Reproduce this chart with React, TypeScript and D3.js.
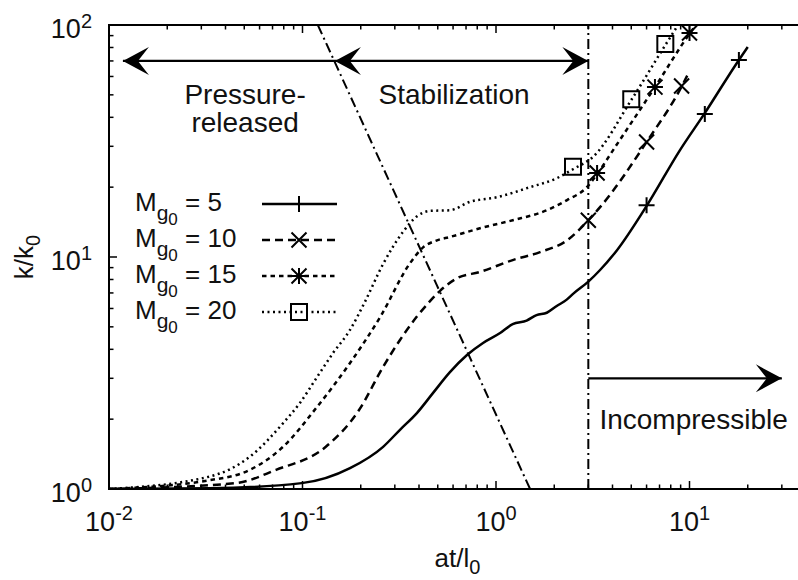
import React from 'react';
import * as d3 from 'd3';

// k/k0 growth curves (log-log)
const m5X = [0.01, 0.033, 0.099, 0.176, 0.261, 0.319, 0.391, 0.472, 0.578, 0.708, 0.857, 1.05, 1.22, 1.44, 1.62, 1.83, 2.06, 2.32, 2.51, 3.0, 3.45, 4.22, 6.03, 8.93, 11.9, 18.0, 20.0];
const m5Y = [1.0, 1.007, 1.06, 1.23, 1.52, 1.8, 2.13, 2.59, 3.19, 3.78, 4.26, 4.7, 5.14, 5.32, 5.62, 5.75, 6.15, 6.55, 6.95, 7.83, 8.79, 10.7, 16.7, 28.9, 41.3, 70.7, 80.4];

const m10X = [0.01, 0.0453, 0.073, 0.132, 0.196, 0.261, 0.319, 0.391, 0.456, 0.514, 0.629, 0.826, 1.22, 1.69, 2.33, 3.0, 3.45, 6.0, 9.14, 9.94];
const m10Y = [1.0, 1.06, 1.21, 1.52, 2.19, 3.36, 4.39, 5.55, 6.45, 7.15, 8.1, 8.62, 9.7, 10.5, 11.8, 14.4, 16.4, 31.3, 54.6, 62.7];

const m15X = [0.01, 0.0329, 0.0536, 0.0793, 0.119, 0.176, 0.252, 0.36, 0.42, 0.496, 0.578, 0.826, 1.22, 1.83, 2.33, 2.95, 3.36, 4.03, 6.63, 10.07, 10.8];
const m15Y = [1.0, 1.09, 1.21, 1.52, 2.26, 3.49, 5.51, 9.42, 11.0, 11.8, 12.2, 13.3, 14.4, 15.9, 17.6, 20.0, 23.0, 28.9, 54.0, 92.4, 100];

const m20X = [0.01, 0.0329, 0.0536, 0.0793, 0.097, 0.119, 0.144, 0.176, 0.21, 0.261, 0.33, 0.391, 0.456, 0.578, 0.734, 1.01, 1.5, 2.07, 2.5, 3.17, 5.04, 7.56, 8.73];
const m20Y = [1.0, 1.13, 1.38, 1.92, 2.35, 3.04, 3.86, 4.85, 6.4, 9.33, 12.8, 15.0, 15.8, 15.9, 17.3, 18.1, 20.0, 21.9, 23.9, 27.0, 48.0, 82.8, 100];

// point markers
const m5MarkX = [6, 12, 18];
const m5MarkY = [16.7, 41.3, 70.7];
const m10MarkX = [3, 6, 9.1];
const m10MarkY = [14.4, 31.3, 54.6];
const m15MarkX = [3.33, 6.63, 10.0];
const m15MarkY = [23.0, 54.0, 92.4];
const m20MarkX = [2.5, 5.0, 7.5];
const m20MarkY = [24.5, 47.8, 82.8];

const machLabels = ['5', '10', '15', '20'];

// regime boundaries
const diagX = [0.12, 1.5];
const diagY = [100, 1];
const incompX = 3;

const xTicks = [0.01, 0.1, 1, 10];
const xTickExp = ['-2', '-1', '0', '1'];
const yTicks = [1, 10, 100];
const yTickExp = ['0', '1', '2'];

const FONT = "'Liberation Sans', Arial, Helvetica, sans-serif";

const x0 = 109, x1 = 806, y0 = 25, y1 = 489;

const xS = d3.scaleLog().domain([0.01, 40]).range([x0, x1]);
const yS = d3.scaleLog().domain([1, 100]).range([y1, y0]);

const line = d3.line<[number, number]>()
  .x(d => xS(d[0]))
  .y(d => yS(d[1]))
  .curve(d3.curveMonotoneX);

const zip = (xs: number[], ys: number[]) => xs.map((v, i) => [v, ys[i]] as [number, number]);

const series = [
  { pts: zip(m5X, m5Y), dash: undefined, marker: 'plus', mk: zip(m5MarkX, m5MarkY) },
  { pts: zip(m10X, m10Y), dash: '8,5', marker: 'cross', mk: zip(m10MarkX, m10MarkY) },
  { pts: zip(m15X, m15Y), dash: '4.5,4', marker: 'star', mk: zip(m15MarkX, m15MarkY) },
  { pts: zip(m20X, m20Y), dash: '2,3.5', marker: 'box', mk: zip(m20MarkX, m20MarkY) },
];

function Marker({ type, x, y }: { type: string; x: number; y: number }) {
  const s = 8, c = 7.5;
  const p: string[] = [];
  if (type === 'plus' || type === 'star') p.push(`M${x - s},${y}H${x + s}M${x},${y - s}V${y + s}`);
  if (type === 'cross' || type === 'star') p.push(`M${x - c},${y - c}L${x + c},${y + c}M${x - c},${y + c}L${x + c},${y - c}`);
  if (type === 'box') p.push(`M${x - s},${y - s}h${2 * s}v${2 * s}h${-2 * s}Z`);
  return <path d={p.join('')} fill="none" stroke="#000" strokeWidth={2} />;
}

function head(x: number, y: number, dir: number) {
  const L = 26, hw = 14, n = 15;
  return `M${x},${y}L${x - dir * L},${y - hw}L${x - dir * n},${y}L${x - dir * L},${y + hw}Z`;
}

export default function App() {
  const minorX: number[] = [];
  xTicks.forEach(d => d3.range(2, 10).forEach(k => { if (k * d <= 40) minorX.push(k * d); }));
  const minorY: number[] = [];
  yTicks.slice(0, 2).forEach(d => d3.range(2, 10).forEach(k => minorY.push(k * d)));

  const arrowY = yS(70);
  const aL = xS(0.0118), aM = xS(0.147), aR = xS(incompX);
  const inY = yS(3), inR = xS(30);

  return (
    <svg width={798} height={580} style={{ position: 'absolute', left: 0, top: 0, background: '#fff' }}
      fontFamily={FONT}>
      <defs>
        <clipPath id="plot"><rect x={x0} y={y0} width={x1 - x0} height={y1 - y0} /></clipPath>
      </defs>

      {/* ticks */}
      <g stroke="#000" strokeWidth={1.5}>
        {xTicks.map(v => <g key={'xt' + v}>
          <line x1={xS(v)} x2={xS(v)} y1={y1} y2={y1 - 8} />
          <line x1={xS(v)} x2={xS(v)} y1={y0} y2={y0 + 8} />
        </g>)}
        {minorX.map(v => <g key={'xm' + v}>
          <line x1={xS(v)} x2={xS(v)} y1={y1} y2={y1 - 4.5} />
          <line x1={xS(v)} x2={xS(v)} y1={y0} y2={y0 + 4.5} />
        </g>)}
        {yTicks.map(v => <line key={'yt' + v} x1={x0} x2={x0 + 8} y1={yS(v)} y2={yS(v)} />)}
        {minorY.map(v => <line key={'ym' + v} x1={x0} x2={x0 + 4.5} y1={yS(v)} y2={yS(v)} />)}
      </g>

      <g clipPath="url(#plot)" fill="none" stroke="#000">
        <line x1={xS(diagX[0])} y1={yS(diagY[0])} x2={xS(diagX[1])} y2={yS(diagY[1])}
          strokeWidth={2} strokeDasharray="10,4,2,4" />
        <line x1={xS(incompX)} x2={xS(incompX)} y1={yS(1)} y2={yS(100)}
          strokeWidth={2} strokeDasharray="10,4,2,4" />
        {series.map((s, i) => (
          <path key={i} d={line(s.pts) || ''} strokeWidth={2.5} strokeDasharray={s.dash} />
        ))}
      </g>
      {series.map((s, i) => s.mk.map((m, j) => (
        <Marker key={i + '-' + j} type={s.marker} x={xS(m[0])} y={yS(m[1])} />
      )))}

      {/* arrows */}
      <g stroke="#000" strokeWidth={2.2}>
        <line x1={aL} x2={aR} y1={arrowY} y2={arrowY} />
        <line x1={aR} x2={inR} y1={inY} y2={inY} />
      </g>
      <g fill="#000">
        <path d={head(aL, arrowY, -1)} />
        <path d={head(aM, arrowY, -1)} />
        <path d={head(aR, arrowY, 1)} />
        <path d={head(inR, inY, 1)} />
      </g>

      {/* frame */}
      <rect x={x0} y={y0} width={x1 - x0} height={y1 - y0} fill="none" stroke="#000" strokeWidth={2} />

      {/* annotations */}
      <g fontSize={28} textAnchor="middle" fill="#111">
        <text x={xS(0.0505)} y={yS(45.7)}>Pressure-</text>
        <text x={xS(0.0505)} y={yS(34.6)}>released</text>
        <text x={xS(0.607)} y={yS(45.7)}>Stabilization</text>
        <text x={xS(10.5)} y={yS(1.81)}>Incompressible</text>
      </g>

      {/* legend */}
      <g fontSize={26} fill="#111">
        {series.map((s, i) => {
          const ry = 204 + i * 36;
          return <g key={'lg' + i}>
            <text x={135} y={ry + 7}>M<tspan dy={9} fontSize={21}>g</tspan><tspan dy={5} fontSize={17}>0</tspan><tspan dy={-14}> = {machLabels[i]}</tspan></text>
            <line x1={262} x2={337} y1={ry} y2={ry} stroke="#000" strokeWidth={2.5} strokeDasharray={s.dash} />
            <Marker type={s.marker} x={299} y={ry} />
          </g>;
        })}
      </g>

      {/* tick labels */}
      <g fontSize={27} fill="#111">
        {xTicks.map((v, i) => (
          <text key={'xl' + v} x={xS(v)} y={531} textAnchor="middle">10<tspan dy={-11} fontSize={20}>{xTickExp[i]}</tspan></text>
        ))}
        {yTicks.map((v, i) => (
          <text key={'yl' + v} x={92} y={yS(v) + 13} textAnchor="end">10<tspan dy={-10} fontSize={20}>{yTickExp[i]}</tspan></text>
        ))}
      </g>

      {/* axis titles */}
      <g fontSize={26} fill="#111" textAnchor="middle">
        <text x={(x0 + x1) / 2} y={567}>at/l<tspan dy={7} fontSize={20}>0</tspan></text>
        <text transform={`translate(33,${(y0 + y1) / 2}) rotate(-90)`}>k/k<tspan dy={7} fontSize={20}>0</tspan></text>
      </g>
    </svg>
  );
}
